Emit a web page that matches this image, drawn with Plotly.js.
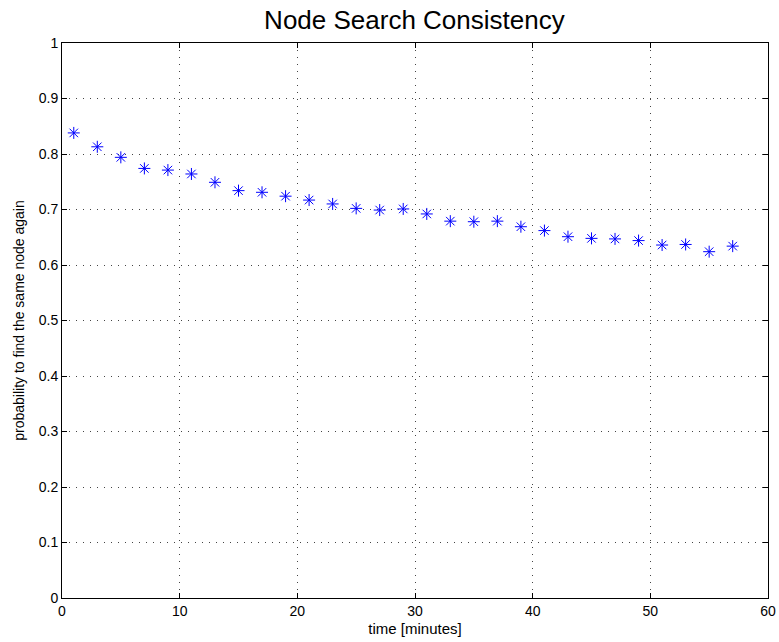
<!DOCTYPE html>
<html>
<head>
<meta charset="utf-8">
<script src="https://cdn.plot.ly/plotly-3.0.1.min.js"></script>
<style>html,body{margin:0;padding:0;background:#fff;}</style>
</head>
<body>
<div id="chart" style="width:779px;height:642px;"></div>
<script>
const timeMinutes = [1,3,5,7,9,11,13,15,17,19,21,23,25,27,29,31,33,35,37,39,41,43,45,47,49,51,53,55,57];
const probability = [0.838,0.813,0.794,0.774,0.771,0.764,0.749,0.734,0.731,0.724,0.717,0.710,0.702,0.699,0.701,0.692,0.679,0.678,0.679,0.669,0.662,0.651,0.648,0.647,0.644,0.636,0.637,0.624,0.634];
const xTicks = [0,10,20,30,40,50,60];
const yTicks = [0,0.1,0.2,0.3,0.4,0.5,0.6,0.7,0.8,0.9,1];
const yTickText = ['0','0.1','0.2','0.3','0.4','0.5','0.6','0.7','0.8','0.9','1'];

const font = 'Liberation Sans, Arial, Helvetica, sans-serif';
const axisCommon = {
  showline: true, linecolor: '#000', linewidth: 1, mirror: 'ticks',
  ticks: 'inside', ticklen: 5, tickcolor: '#000', tickwidth: 1,
  showgrid: true, gridcolor: '#444', gridwidth: 1, griddash: '1px,6px',
  zeroline: false, tickfont: {family: font, size: 14, color: '#000'}
};

Plotly.newPlot('chart', [{
  x: timeMinutes, y: probability, type: 'scatter', mode: 'markers',
  marker: {symbol: 'asterisk-open', size: 10, color: '#0000ff', line: {color: '#0000ff', width: 1}},
  showlegend: false
}], {
  width: 779, height: 642,
  margin: {l: 62, r: 11, t: 43, b: 44},
  paper_bgcolor: '#fff', plot_bgcolor: '#fff',
  title: {text: 'Node Search Consistency', font: {family: font, size: 26, color: '#000'}, x: 0.532, xanchor: 'center', y: 0.969, yanchor: 'middle'},
  xaxis: Object.assign({}, axisCommon, {range: [0, 60], tickvals: xTicks,
    title: {text: 'time [minutes]', font: {family: font, size: 15, color: '#000'}, standoff: 5}}),
  yaxis: Object.assign({}, axisCommon, {range: [0, 1], tickvals: yTicks, ticktext: yTickText,
    title: {text: 'probability to find the same node again', font: {family: font, size: 14, color: '#000'}, standoff: 10}})
}, {staticPlot: true});
</script>
</body>
</html>
